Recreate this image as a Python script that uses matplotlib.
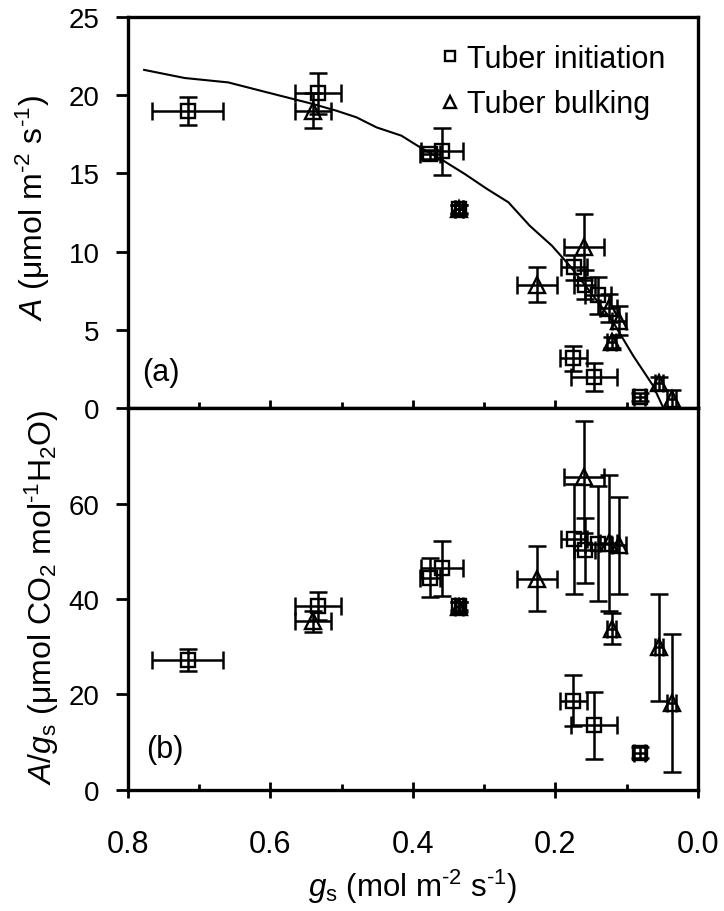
import numpy as np
import matplotlib
matplotlib.use("Agg")
import matplotlib.pyplot as plt
from matplotlib.lines import Line2D

plt.rcParams['font.family'] = ['Liberation Sans', 'DejaVu Sans']
plt.rcParams['mathtext.fontset'] = 'custom'
plt.rcParams['mathtext.rm'] = 'Liberation Sans'
plt.rcParams['mathtext.it'] = 'Liberation Sans:italic'

# fitted curve (A vs gs)
gs_fit = [0.777, 0.720, 0.659, 0.605, 0.540, 0.507, 0.479, 0.451, 0.416, 0.390, 0.357,
          0.327, 0.296, 0.266, 0.236, 0.205, 0.180, 0.147, 0.119, 0.091, 0.063, 0.049]
A_fit = [21.6, 21.08, 20.8, 20.17, 19.42, 18.99, 18.57, 17.93, 17.4, 16.66, 15.8,
         14.95, 14.0, 13.15, 11.65, 10.38, 9.1, 7.19, 5.49, 3.36, 1.44, 0.06]

# tuber initiation (squares)
gs_init = [0.716, 0.533, 0.376, 0.359, 0.335, 0.174, 0.159, 0.140, 0.175, 0.146, 0.082]
gs_init_err = [0.050, 0.032, 0.014, 0.029, 0.006, 0.018, 0.015, 0.018, 0.019, 0.032, 0.008]
A_init = [19.0, 20.1, 16.2, 16.4, 12.7, 9.0, 7.9, 7.2, 3.2, 2.0, 0.7]
A_init_err = [0.9, 1.3, 0.3, 1.5, 0.25, 0.8, 0.9, 1.2, 0.8, 0.9, 0.25]
wue_init = [27.3, 38.5, 44.5, 46.4, 38.5, 52.6, 50.2, 51.6, 18.7, 13.5, 7.8]
wue_init_err = [2.3, 3.0, 4.0, 5.8, 0.8, 11.5, 6.8, 12.0, 5.3, 7.0, 1.2]

# tuber bulking (triangles)
gs_bulk = [0.540, 0.335, 0.226, 0.160, 0.125, 0.111, 0.121, 0.055, 0.037]
gs_bulk_err = [0.025, 0.006, 0.028, 0.028, 0.012, 0.010, 0.006, 0.006, 0.006]
A_bulk = [19.0, 12.7, 7.9, 10.3, 6.4, 5.6, 4.2, 1.6, 0.6]
A_bulk_err = [1.1, 0.3, 1.1, 2.1, 0.9, 0.9, 0.35, 0.4, 0.6]
wue_bulk = [35.3, 38.3, 44.3, 65.6, 51.8, 51.3, 33.8, 29.9, 18.2]
wue_bulk_err = [2.2, 1.0, 6.8, 11.7, 14.3, 10.2, 3.3, 11.2, 14.4]

fig = plt.figure(figsize=(7.24, 9.12), dpi=100)
ax1 = fig.add_axes([0.1764, 0.5512, 0.7877, 0.4295])
ax2 = fig.add_axes([0.1764, 0.1330, 0.7877, 0.4182])

eb = dict(fmt='none', ecolor='black', elinewidth=1.8, capsize=6.5, capthick=1.8)
mk = dict(ls='none', mfc='none', mec='black', mew=1.7)

ax1.plot(gs_fit, A_fit, color='black', lw=1.5)
for ax, yi, yie, yb, ybe in [(ax1, A_init, A_init_err, A_bulk, A_bulk_err),
                             (ax2, wue_init, wue_init_err, wue_bulk, wue_bulk_err)]:
    ax.errorbar(gs_init, yi, xerr=gs_init_err, yerr=yie, **eb)
    ax.errorbar(gs_bulk, yb, xerr=gs_bulk_err, yerr=ybe, **eb)
    ax.plot(gs_init, yi, marker='s', ms=9.5, **mk)
    ax.plot(gs_bulk, yb, marker='^', ms=11, **mk)

for ax in (ax1, ax2):
    ax.set_xlim(0.8, 0.0)
    ax.set_xticks([0.8, 0.6, 0.4, 0.2, 0.0])
    ax.set_xticks([0.7, 0.5, 0.3, 0.1], minor=True)
    for s in ax.spines.values():
        s.set_linewidth(2.4)
    ax.tick_params(axis='x', which='major', direction='inout', length=11, width=2,
                   labelsize=22, pad=23)
    ax.tick_params(axis='x', which='minor', direction='in', length=4, width=2)
    ax.tick_params(axis='y', direction='out', length=8.4, width=2, labelsize=20, pad=12)

ax1.set_ylim(0, 25)
ax1.set_yticks([0, 5, 10, 15, 20, 25])
ax1.tick_params(axis='x', which='both', labelbottom=False)
ax2.set_ylim(0, 80)
ax2.set_yticks([0, 20, 40, 60])
ax2.set_xticklabels(['0.8', '0.6', '0.4', '0.2', '0.0'])

ax1.text(0.0245, 0.092, '(a)', transform=ax1.transAxes, fontsize=22, va='center', ha='left')
ax2.text(0.033, 0.107, '(b)', transform=ax2.transAxes, fontsize=22, va='center', ha='left')

fig.text(43.5 / 724, 1 - 208 / 912, r'$A$ (μmol m$^{\text{-2}}$ s$^{\text{-1}}$)',
         rotation=90, rotation_mode='anchor', ha='center', va='baseline', fontsize=23)
fig.text(52 / 724, 1 - 597 / 912,
         r'$A/g_{\mathrm{s}}$ (μmol CO$_{\mathrm{2}}$ mol$^{\text{-1}}$H$_{\mathrm{2}}$O)',
         rotation=90, rotation_mode='anchor', ha='center', va='baseline', fontsize=23)
fig.text(413 / 724, 1 - 897 / 912, r'$g_{\mathrm{s}}$ (mol m$^{\text{-2}}$ s$^{\text{-1}}$)',
         ha='center', va='baseline', fontsize=22.5)

handles = [Line2D([], [], marker='s', ms=7, **mk), Line2D([], [], marker='^', ms=8, **mk)]
ax1.legend(handles, ['Tuber initiation', 'Tuber bulking'], loc='upper right',
           bbox_to_anchor=(0.975, 0.977), frameon=False, fontsize=22,
           handlelength=0.6, handletextpad=0.25, labelspacing=0.5, borderaxespad=0.2)

fig.savefig('out.png', dpi=100)
